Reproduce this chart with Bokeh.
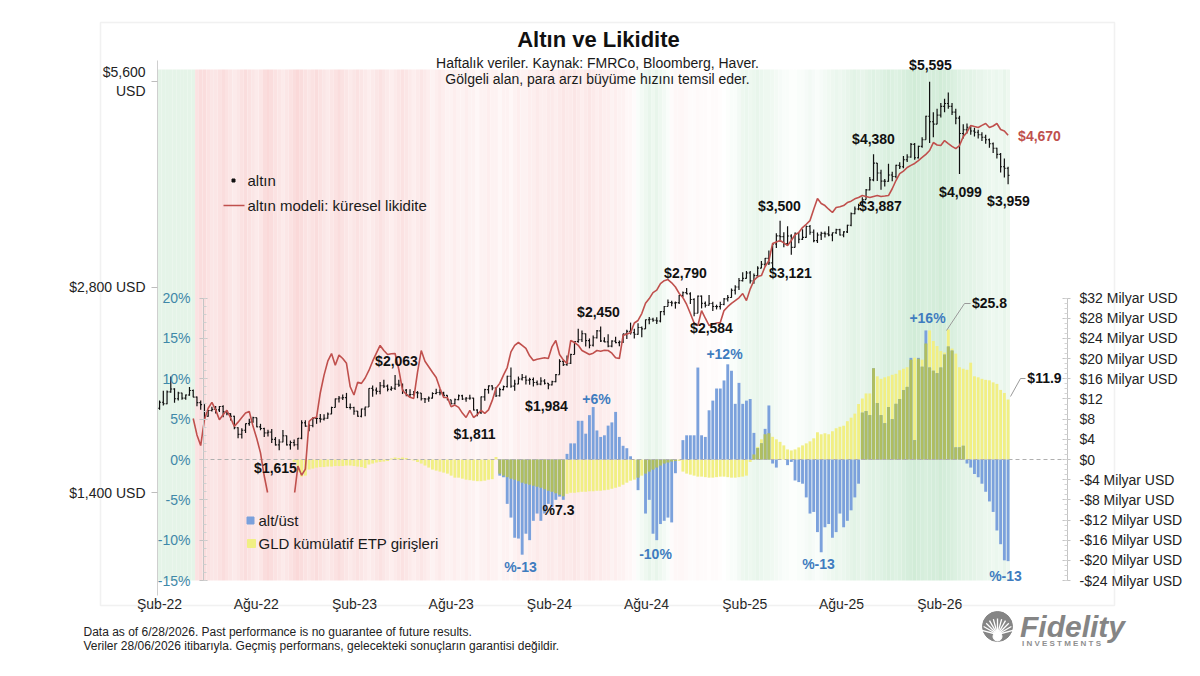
import math
import numpy as np
import pandas as pd
from bokeh.plotting import figure
from bokeh.models import (Range1d, LogScale, LogAxis, LinearAxis, FixedTicker,
                          Label, BoxAnnotation)
from bokeh.core.properties import value
from bokeh.embed import file_html
from bokeh.resources import INLINE

# ============================ DATA ============================
first_week = "2022-02-18"          # weekly (Friday) observations
n_weeks = 228
gold_open_first = 1860

gold_close = [
    1898, 1889, 1966, 1985, 1921, 1958, 1925, 1945, 1975, 1931,
    1896, 1883, 1811, 1846, 1853, 1850, 1871, 1840, 1827, 1811,
    1742, 1703, 1727, 1766, 1775, 1802, 1747, 1737, 1712, 1716,
    1675, 1644, 1660, 1695, 1644, 1657, 1645, 1681, 1771, 1751,
    1755, 1797, 1797, 1793, 1798, 1824, 1865, 1920, 1926, 1928,
    1865, 1865, 1842, 1811, 1855, 1868, 1989, 1978, 1969, 2007,
    2004, 1983, 1990, 2017, 2011, 1977, 1946, 1948, 1961, 1958,
    1921, 1919, 1925, 1955, 1962, 1959, 1943, 1914, 1889, 1915,
    1940, 1919, 1924, 1925, 1849, 1833, 1933, 1981, 2006, 1992,
    1940, 1981, 2001, 2072, 2004, 2019, 2053, 2063, 2045, 2049,
    2029, 2018, 2039, 2024, 2013, 2035, 2083, 2179, 2155, 2165,
    2230, 2330, 2344, 2392, 2337, 2301, 2360, 2415, 2334, 2327,
    2294, 2333, 2321, 2326, 2392, 2411, 2400, 2387, 2443, 2431,
    2507, 2512, 2503, 2497, 2577, 2622, 2658, 2653, 2656, 2721,
    2747, 2736, 2685, 2563, 2715, 2650, 2633, 2648, 2622, 2621,
    2640, 2690, 2703, 2770, 2800, 2861, 2883, 2936, 2858, 2910,
    2984, 3023, 3084, 3037, 3237, 3327, 3319, 3241, 3325, 3200,
    3357, 3289, 3310, 3433, 3368, 3274, 3337, 3355, 3350, 3337,
    3363, 3398, 3336, 3372, 3448, 3586, 3643, 3685, 3760, 3886,
    4018, 4252, 4112, 4002, 4000, 4085, 4065, 4220, 4200, 4300,
    4340, 4530, 4330, 4500, 4600, 4980, 4890, 4850, 5000, 5150,
    5200, 5150, 5050, 4950, 4700, 4760, 4800, 4740, 4720, 4680,
    4640, 4600, 4540, 4470, 4380, 4200, 4180, 4080]

gold_high = [
    1910, 1974, 1975, 2070, 1990, 1966, 1960, 1948, 1998, 1982,
    1935, 1909, 1885, 1849, 1870, 1874, 1875, 1879, 1847, 1829,
    1813, 1745, 1739, 1767, 1795, 1808, 1802, 1765, 1741, 1730,
    1735, 1688, 1675, 1729, 1697, 1668, 1674, 1682, 1787, 1787,
    1766, 1804, 1810, 1825, 1823, 1833, 1870, 1922, 1938, 1949,
    1959, 1890, 1869, 1843, 1858, 1870, 1990, 2009, 1995, 2032,
    2048, 2015, 2004, 2081, 2048, 2022, 1985, 1983, 1972, 1971,
    1959, 1926, 1935, 1963, 1987, 1983, 1967, 1938, 1915, 1923,
    1949, 1946, 1932, 1947, 1927, 1854, 1935, 1987, 2009, 2010,
    1993, 1993, 2008, 2075, 2135, 2047, 2070, 2088, 2078, 2062,
    2063, 2042, 2065, 2052, 2025, 2041, 2088, 2195, 2185, 2223,
    2236, 2330, 2432, 2418, 2393, 2354, 2378, 2422, 2450, 2364,
    2387, 2339, 2368, 2338, 2392, 2424, 2483, 2432, 2477, 2450,
    2509, 2531, 2525, 2529, 2581, 2626, 2685, 2672, 2666, 2725,
    2758, 2790, 2750, 2695, 2721, 2721, 2666, 2726, 2664, 2638,
    2665, 2697, 2725, 2786, 2817, 2886, 2942, 2955, 2956, 2930,
    3004, 3057, 3087, 3167, 3245, 3357, 3500, 3368, 3438, 3345,
    3366, 3365, 3403, 3446, 3452, 3398, 3366, 3375, 3377, 3438,
    3364, 3409, 3407, 3378, 3453, 3600, 3674, 3707, 3791, 3897,
    4059, 4380, 4255, 4160, 4030, 4245, 4132, 4230, 4265, 4354,
    4380, 4550, 4550, 4510, 4640, 4990, 5595, 5050, 5110, 5210,
    5285, 5396, 5210, 5110, 4990, 4850, 4860, 4830, 4790, 4760,
    4720, 4680, 4620, 4560, 4480, 4400, 4320, 4200]

gold_low = [
    1850, 1878, 1885, 1960, 1895, 1910, 1915, 1915, 1940, 1930,
    1872, 1850, 1797, 1807, 1840, 1828, 1836, 1805, 1816, 1785,
    1733, 1681, 1680, 1711, 1754, 1771, 1745, 1727, 1688, 1691,
    1654, 1640, 1615, 1659, 1640, 1618, 1637, 1617, 1675, 1747,
    1721, 1745, 1765, 1773, 1785, 1795, 1823, 1867, 1896, 1912,
    1861, 1853, 1820, 1808, 1804, 1810, 1880, 1934, 1949, 1950,
    1992, 1969, 1974, 1979, 2000, 1952, 1937, 1932, 1940, 1924,
    1910, 1893, 1902, 1922, 1950, 1943, 1928, 1911, 1885, 1884,
    1911, 1912, 1901, 1914, 1846, 1810, 1825, 1908, 1954, 1976,
    1932, 1935, 1976, 1995, 1994, 1973, 2017, 2042, 2016, 2013,
    2002, 2010, 2010, 2015, 1984, 2009, 2031, 2083, 2145, 2146,
    2160, 2230, 2320, 2325, 2291, 2277, 2291, 2353, 2326, 2324,
    2286, 2286, 2316, 2293, 2319, 2350, 2385, 2353, 2383, 2364,
    2433, 2470, 2490, 2471, 2485, 2546, 2621, 2624, 2603, 2643,
    2708, 2732, 2643, 2536, 2564, 2605, 2613, 2630, 2583, 2596,
    2596, 2633, 2667, 2700, 2730, 2772, 2852, 2880, 2833, 2832,
    2892, 2982, 3000, 3015, 2957, 3194, 3260, 3202, 3221, 3121,
    3205, 3245, 3280, 3306, 3340, 3255, 3248, 3282, 3310, 3324,
    3268, 3347, 3330, 3312, 3360, 3436, 3578, 3627, 3720, 3760,
    3880, 4000, 4004, 3886, 3930, 3995, 4000, 4040, 4170, 4180,
    4270, 4330, 4300, 4320, 4480, 4600, 4550, 4640, 4860, 4960,
    5050, 5110, 5000, 4850, 4099, 4620, 4700, 4680, 4650, 4620,
    4580, 4540, 4480, 4400, 4320, 4120, 4050, 3959]

model_first_week = 9
model_liquidity = [
    1797, 1700, 1640, 1790, 1860, 1897, 1850, 1790, 1820, 1847, 1800,
    1750, 1775, 1803, 1830, 1840, 1750, 1680, 1600, 1480, 1390,
    1340, 1300, 1280, 1290, 1310, 1340, 1380, 1530, 1484, 1515,
    1780, 1800, 1805, 1960, 2080, 2180, 2237, 2150, 2225, 2200,
    2165, 2000, 1945, 2030, 2023, 2060, 2113, 2180, 2240, 2299,
    2260, 2230, 2235, 2237, 2120, 1975, 1950, 1930, 1923, 2100,
    2260, 2180, 2140, 2100, 2064, 1990, 1929, 1929, 1870, 1880,
    1866, 1830, 1803, 1847, 1803, 1820, 1847, 1828, 1850, 1910,
    1990, 2023, 2080, 2134, 2250, 2300, 2322, 2300, 2276, 2220,
    2185, 2195, 2200, 2205, 2200, 2290, 2338, 2230, 2190, 2163,
    2338, 2322, 2300, 2260, 2245, 2230, 2240, 2260, 2255, 2262,
    2260, 2240, 2205, 2200, 2377, 2390, 2400, 2480, 2501, 2560,
    2650, 2693, 2748, 2770, 2833, 2860, 2871, 2840, 2800, 2740,
    2702, 2640, 2560, 2480, 2459, 2586, 2520, 2459, 2470, 2480,
    2484, 2586, 2620, 2650, 2675, 2700, 2739, 2675, 2780, 2862,
    2900, 2910, 3000, 3060, 3242, 3260, 3275, 3250, 3220, 3275,
    3340, 3364, 3422, 3460, 3503, 3640, 3773, 3710, 3685, 3640,
    3600, 3660, 3670, 3685, 3723, 3740, 3770, 3786, 3812, 3800,
    3786, 3800, 3812, 3799, 3805, 3812, 3900, 4010, 4105, 4140,
    4190, 4220, 4247, 4290, 4334, 4380, 4437, 4558, 4520, 4512,
    4589, 4543, 4500, 4466, 4512, 4650, 4720, 4827, 4810, 4795,
    4830, 4860, 4795, 4820, 4860, 4763, 4740, 4670]
model_floor = 1400     # the original's price axis stops here, the model line is cut

over_under_pct = [0.0] * 91 + [
    -2.0, -2.2, -5.5, -7.2, -9.7, -9.8, -11.8, -9.2, -10.0,
    -7.6, -6.7, -7.6, -6.7, -5.5, -5.9, -5.0, -4.6, -5.0, 0.7,
    2.0, 2.0, 4.8, 4.8, 3.2, 5.5, 6.5, 3.6, 2.8, 3.0,
    4.2, 4.6, 5.9, 2.8, 1.7, 1.4, 0.4, 0.0, -3.8, 0.0,
    -6.7, -5.0, -9.2, -10.0, -8.0, -7.6, -7.2, -7.8, -1.7, 0.0,
    2.4, 3.0, 3.0, 3.0, 11.4, 3.0, 2.8, 6.1, 7.3, 8.8,
    8.8, 9.8, 11.8, 11.0, 6.9, 9.5, 6.9, 7.3, 7.5, 3.3,
    1.4, 2.0, 3.8, 6.7, -0.5, -1.0, 0.0, 0.0, -0.7, -0.3,
    -2.6, -2.8, -3.0, -4.7, -6.7, -6.5, -9.0, -11.5, -8.4, -8.0,
    -9.7, -9.0, -6.7, -8.4, -7.6, -6.3, -4.7, -3.0, 5.8, 6.0,
    5.5, 11.3, 7.0, 5.5, 4.5, 6.5, 5.0, 6.9, 7.5, 8.6,
    9.0, 12.6, 2.4, 12.6, 11.5, 16.0, 11.4, 11.0, 10.7, 11.4,
    13.0, 14.0, 13.5, 1.5, 1.5, 1.7, -0.5, -1.0, -1.8, -2.2,
    -3.0, -4.0, -5.2, -6.5, -8.8, -10.5, -12.5, -12.6]

gld_etp_flows = [0.0] * 36 + [
    -0.5, -2.5, -3.4, -3.2, -2.0, -1.8, -1.6, -1.5, -1.5, -1.4,
    -1.4, -1.3, -1.3, -1.3, -1.2, -1.2, -1.3, -1.4, -1.5, -1.7,
    -1.0, -0.8, -0.6, -0.5, -0.4, -0.3, 0.2, 0.4, 0.3, 0.4,
    0.3, 0.1, -0.2, -0.5, -0.8, -1.2, -1.6, -2.0, -2.2, -2.4,
    -2.6, -2.8, -3.2, -3.6, -3.6, -3.8, -4.0, -4.1, -4.2, -4.3,
    -4.3, -4.2, -4.0, -3.9, 0.5, -2.8, -3.2, -3.5, -3.8, -4.0,
    -4.3, -4.6, -4.8, -5.0, -5.2, -5.4, -5.6, -5.9, -6.2, -6.4,
    -6.7, -7.0, -7.3, -6.8, -6.6, -6.6, -6.5, -6.4, -6.4, -6.3,
    -6.3, -6.2, -6.2, -6.1, -6.0, -5.8, -5.6, -5.4, -5.0, -4.6,
    -4.2, -4.0, -3.6, -3.2, -2.8, -2.4, -2.0, -1.6, -1.2, -0.8,
    -0.6, -0.4, -0.3, -0.3, -2.4, -2.8, -3.0, -3.2, -3.4, -3.4,
    -3.5, -3.6, -3.6, -3.5, -3.4, -3.4, -3.5, -3.6, -3.6, -3.5,
    -3.4, -3.2, -0.5, 1.0, 2.5, 4.0, 5.0, 5.2, 4.5, 4.0,
    3.5, 2.8, 2.0, 1.8, 2.0, 2.4, 2.8, 3.2, 3.6, 4.2,
    5.4, 5.0, 5.2, 5.0, 5.6, 6.2, 6.5, 6.7, 7.6, 8.3,
    9.1, 11.0, 12.1, 13.1, 13.1, 18.1, 16.5, 16.0, 16.3, 16.5,
    16.8, 17.0, 17.7, 18.0, 18.3, 19.8, 20.2, 20.0, 19.8, 23.0,
    25.6, 23.5, 22.5, 21.5, 21.2, 25.8, 22.0, 21.0, 18.3, 18.0,
    17.8, 19.2, 16.5, 16.3, 16.0, 15.8, 15.7, 15.3, 15.0, 13.8,
    13.2, 11.9]

# money-supply growth speed shown as background shading (-1 slow/red .. +1 fast/green)
money_growth = (
    [0.45] * 10 +
    [-0.7, -0.8, -0.8, -0.7, -0.6, -0.6, -0.7, -0.8, -0.7, -0.6,
     -0.5, -0.6, -0.7, -0.8, -0.7, -0.6, -0.5, -0.6, -0.8, -0.9,
     -0.8, -0.7, -0.6, -0.5, -0.6, -0.7, -0.8, -0.9, -0.8, -0.7,
     -0.6, -0.7, -0.8, -0.7, -0.6, -0.5, -0.6, -0.7, -0.8, -0.7,
     -0.6, -0.5, -0.6, -0.7, -0.6, -0.5, -0.4, -0.5, -0.6, -0.7,
     -0.6, -0.5, -0.4, -0.5, -0.6, -0.7, -0.6, -0.5, -0.4, -0.5,
     -0.6, -0.5, -0.4, -0.3, -0.4, -0.5, -0.4, -0.3, -0.3, -0.4,
     -0.3, -0.3, -0.4, -0.3, -0.3, -0.2, -0.3, -0.3, -0.4, -0.3,
     -0.3, -0.2, -0.3, -0.3, -0.2, -0.3, -0.4, -0.3, -0.3, -0.4,
     -0.4, -0.5, -0.4, -0.4, -0.5, -0.5, -0.4, -0.5, -0.6, -0.5,
     -0.5, -0.6, -0.5, -0.4, -0.5, -0.6, -0.5, -0.4, -0.5, -0.4,
     -0.4, -0.3, -0.4, -0.3, -0.3, -0.2, -0.2, -0.1, 0.1, 0.2,
     0.3, 0.4, 0.3, 0.4, 0.3, 0.2, 0.1, -0.1, -0.2, -0.2,
     -0.2, -0.15, -0.1, -0.1, -0.15, -0.1, -0.1, -0.05, -0.1, -0.1,
     -0.05, 0.0, 0.05, 0.1, 0.1, 0.2, 0.3, 0.35, 0.3, 0.35,
     0.4, 0.35, 0.3, 0.3, 0.25, 0.2, 0.15, 0.1, 0.1, 0.05,
     0.05, 0.1, 0.1, 0.15, 0.2, 0.15, 0.1, 0.15, 0.2, 0.25,
     0.3, 0.35, 0.3, 0.35, 0.4, 0.45, 0.5, 0.45, 0.4, 0.45,
     0.5, 0.55, 0.5, 0.55, 0.6, 0.65, 0.6, 0.55, 0.6, 0.65,
     0.7, 0.75, 0.8, 0.75, 0.7, 0.65, 0.7, 0.75, 0.7, 0.8,
     0.75, 0.7, 0.65, 0.6, 0.55, 0.5, 0.45, 0.5, 0.45, 0.4,
     0.4, 0.35, 0.35, 0.3, 0.35, 0.3, 0.4, 0.3])

x_tick_dates = ["2022-02-18", "2022-08-18", "2023-02-18", "2023-08-18", "2024-02-18",
                "2024-08-18", "2025-02-18", "2025-08-18", "2026-02-18"]
x_tick_labels = ["Şub-22", "Ağu-22", "Şub-23", "Ağu-23", "Şub-24",
                 "Ağu-24", "Şub-25", "Ağu-25", "Şub-26"]
price_ticks = [1400, 2800, 5600]
price_tick_labels = ["$1,400 USD", "$2,800 USD", "$5,600\nUSD"]
pct_ticks = [-15, -10, -5, 0, 5, 10, 15, 20]
pct_tick_labels = ["-15%", "-10%", "-5%", "0%", "5%", "10%", "15%", "20%"]
flow_ticks = [-24, -20, -16, -12, -8, -4, 0, 4, 8, 12, 16, 20, 24, 28, 32]
flow_tick_labels = ["-$24 Milyar USD", "-$20 Milyar USD", "-$16 Milyar USD", "-$12 Milyar USD",
                    "-$8 Milyar USD", "-$4 Milyar USD", "$0", "$4", "$8", "$12",
                    "$16 Milyar USD", "$20 Milyar USD", "$24 Milyar USD", "$28 Milyar USD",
                    "$32 Milyar USD"]

title_text = "Altın ve Likidite"
subtitle_lines = ["Haftalık veriler. Kaynak: FMRCo, Bloomberg, Haver.",
                  "Gölgeli alan, para arzı büyüme hızını temsil eder."]
footer_lines = ["Data as of 6/28/2026. Past performance is no guarantee of future results.",
                "Veriler 28/06/2026 itibarıyla. Geçmiş performans, gelecekteki sonuçların garantisi değildir."]
legend_gold = "altın"
legend_model = "altın modeli: küresel likidite"
legend_gap = "alt/üst"
legend_flows = "GLD kümülatif ETP girişleri"

assert len(gold_close) == n_weeks and len(gold_high) == n_weeks and len(gold_low) == n_weeks
assert len(model_liquidity) == n_weeks - model_first_week
assert len(over_under_pct) == n_weeks and len(gld_etp_flows) == n_weeks and len(money_growth) == n_weeks

# ============================ LAYOUT ============================
W, H = 1200, 676
ORIGIN = pd.Timestamp("2022-02-01")
X0_PX, PX_PER_DAY = 150.0, 0.534
ZERO_PY, PX_PER_PCT = 459.0, 8.067
PRICE_REF, PRICE_REF_PY, PX_PER_OCTAVE = 5600.0, 81.0, 205.5
PX_PER_BN = 5.042

def X(px):   # canvas px -> x data (days since ORIGIN)
    return (px - X0_PX) / PX_PER_DAY

def Y(py):   # canvas px -> percent axis value
    return (ZERO_PY - py) / PX_PER_PCT

def P(py):   # canvas px -> price
    return PRICE_REF * 2 ** ((PRICE_REF_PY - py) / PX_PER_OCTAVE)

def F(py):   # canvas px -> billions USD
    return (ZERO_PY - py) / PX_PER_BN

FONT = "Liberation Sans"

weeks = pd.date_range(first_week, periods=n_weeks, freq="7D")
xd = (weeks - ORIGIN).days.to_numpy(dtype=float)

# the frame covers the whole canvas; every axis is pinned with fixed_location
p = figure(width=W, height=H, output_backend="svg", toolbar_location=None,
           x_range=Range1d(X(0), X(W)), y_range=Range1d(Y(H), Y(0)),
           y_axis_location=None, x_axis_location=None,
           min_border_left=0, min_border_right=0, min_border_top=0, min_border_bottom=0)
p.title.visible = False
p.extra_y_ranges = {"price": Range1d(P(H), P(0)), "flows": Range1d(F(H), F(0))}
p.extra_y_scales = {"price": LogScale()}
p.xgrid.visible = False
p.ygrid.visible = False
p.outline_line_color = None
p.background_fill_color = "white"
p.border_fill_color = "white"

# --- background shading (money supply growth) ---
def shade(v):
    a = min(abs(v), 1.0)
    base = (197, 231, 205) if v >= 0 else (249, 213, 213)
    return "#%02x%02x%02x" % tuple(int(round(255 + (b - 255) * a)) for b in base)

p.quad(left=xd - 3.5, right=xd + 3.5, bottom=Y(580), top=Y(69),
       fill_color=[shade(v) for v in money_growth], line_color=None)

# --- bars: over/under (percent axis) and GLD flows (right axis) ---
gap = np.array(over_under_pct, dtype=float)
flows = np.array(gld_etp_flows, dtype=float)
ratio = (F(0) - F(H)) / (Y(0) - Y(H))          # billions per percent on screen
flows_pct = flows / ratio
same = np.sign(gap) == np.sign(flows_pct)
overlap = np.where(same, np.sign(gap) * np.minimum(np.abs(gap), np.abs(flows_pct)), 0.0)

BAR_W = 5.4
YELLOW, BLUE, OLIVE = "#f1ef84", "#7ba1dc", "#afbe60"
p.vbar(x=xd, top=flows, bottom=0, width=BAR_W, y_range_name="flows",
       fill_color=YELLOW, line_color=None)
p.vbar(x=xd, top=gap, bottom=0, width=BAR_W, fill_color=BLUE, line_color=None)
p.vbar(x=xd, top=overlap, bottom=0, width=BAR_W, fill_color=OLIVE, line_color=None)

# --- zero line ---
p.segment(x0=[X(203)], y0=[0], x1=[X(1067)], y1=[0], line_color="#b0b0b0",
          line_dash="4 3", line_width=1)

# --- gold weekly bars ---
close = np.array(gold_close, dtype=float)
opens = np.concatenate([[gold_open_first], close[:-1]])
high = np.maximum.reduce([np.array(gold_high, float), opens, close])
low = np.minimum.reduce([np.array(gold_low, float), opens, close])
TICK = 2.6
INK = "#111111"
p.segment(x0=xd, y0=low, x1=xd, y1=high, y_range_name="price", line_color=INK, line_width=1.2)
p.segment(x0=xd - TICK, y0=opens, x1=xd, y1=opens, y_range_name="price", line_color=INK, line_width=1.1)
p.segment(x0=xd, y0=close, x1=xd + TICK, y1=close, y_range_name="price", line_color=INK, line_width=1.1)

# --- model line, cut at the price-axis floor ---
mx_src = xd[model_first_week:]
mv_src = list(model_liquidity)
mx, my = [], []
lf = math.log(model_floor)
for i, (x, v) in enumerate(zip(mx_src, mv_src)):
    if i > 0:
        x_prev, v_prev = mx_src[i - 1], mv_src[i - 1]
        if (v_prev >= model_floor) != (v >= model_floor):
            t = (lf - math.log(v_prev)) / (math.log(v) - math.log(v_prev))
            mx.append(x_prev + t * (x - x_prev)); my.append(model_floor)
            if v < model_floor:
                mx.append(float("nan")); my.append(float("nan"))
    if v >= model_floor:
        mx.append(x); my.append(v)
RED = "#c0504d"
p.line(x=mx, y=my, y_range_name="price", line_color=RED, line_width=1.6)

# --- axes (pinned) ---
def style_axis(ax, color="#222222"):
    ax.major_label_text_font = FONT
    ax.major_label_text_font_size = "14px"
    ax.major_label_text_color = color

price_axis = LogAxis(y_range_name="price", fixed_location=X(157),
                     ticker=FixedTicker(ticks=price_ticks, minor_ticks=[]))
price_axis.major_label_overrides = dict(zip(price_ticks, price_tick_labels))
price_axis.bounds = (P(595), P(60))
price_axis.axis_line_color = "#cfcfcf"
price_axis.major_tick_line_color = "#bdbdbd"
price_axis.major_tick_out = 6
price_axis.major_tick_in = 0
price_axis.major_label_standoff = 6
style_axis(price_axis)
p.add_layout(price_axis, "left")

pct_axis = LinearAxis(fixed_location=X(203),
                      ticker=FixedTicker(ticks=pct_ticks,
                                         minor_ticks=list(range(pct_ticks[0], pct_ticks[-1] + 1))))
pct_axis.major_label_overrides = dict(zip(pct_ticks, pct_tick_labels))
pct_axis.bounds = (pct_ticks[0], pct_ticks[-1])
pct_axis.axis_line_color = "#c4c4c4"
pct_axis.major_tick_line_color = "#c4c4c4"
pct_axis.minor_tick_line_color = "#d0d0d0"
pct_axis.major_tick_out = 4
pct_axis.major_tick_in = 4
pct_axis.minor_tick_out = 0
pct_axis.minor_tick_in = 3
pct_axis.major_label_standoff = 9
style_axis(pct_axis, "#3f88a8")
p.add_layout(pct_axis, "left")

flow_axis = LinearAxis(y_range_name="flows", fixed_location=X(1067),
                       ticker=FixedTicker(ticks=flow_ticks, minor_ticks=list(range(-24, 33))))
flow_axis.major_label_overrides = dict(zip(flow_ticks, flow_tick_labels))
flow_axis.bounds = (flow_ticks[0], flow_ticks[-1])
flow_axis.axis_line_color = "#c4c4c4"
flow_axis.major_tick_line_color = "#c4c4c4"
flow_axis.minor_tick_line_color = "#d4d4d4"
flow_axis.major_tick_in = 5
flow_axis.major_tick_out = 3
flow_axis.minor_tick_in = 3
flow_axis.minor_tick_out = 0
flow_axis.major_label_standoff = 9
style_axis(flow_axis)
p.add_layout(flow_axis, "right")

x_tick_days = [int(d) for d in (pd.to_datetime(x_tick_dates) - ORIGIN).days]
x_axis = LinearAxis(fixed_location=Y(580), ticker=FixedTicker(ticks=x_tick_days, minor_ticks=[]))
x_axis.major_label_overrides = dict(zip(x_tick_days, x_tick_labels))
x_axis.axis_line_color = None
x_axis.major_tick_line_color = None
x_axis.minor_tick_line_color = None
x_axis.major_label_standoff = 9
style_axis(x_axis)
p.add_layout(x_axis, "below")

# --- text helpers ---
def label(px, py, text, size=14, color="#111111", style="normal", align="center",
          baseline="middle", font=FONT):
    p.add_layout(Label(x=X(px), y=Y(py), text=text, text_font=font, text_font_size=f"{size}px",
                       text_color=color, text_font_style=style, text_align=align,
                       text_baseline=baseline))

# frame around the whole graphic
p.add_layout(BoxAnnotation(left=X(100), right=X(1114), top=Y(22), bottom=Y(605),
                           fill_alpha=0, line_color="#d2d2d2", line_width=1.5))

label(598, 39, title_text, size=22, style="bold")
label(597, 62, subtitle_lines[0], size=14, color="#1a1a1a")
label(597, 78, subtitle_lines[1], size=14, color="#1a1a1a")

label(83, 631, footer_lines[0], size=12, color="#222222", align="left")
label(83, 645, footer_lines[1], size=12, color="#222222", align="left")

# Fidelity mark
LOGO = "#858585"
p.scatter(x=[X(997)], y=[Y(626)], marker="circle", size=30, color=LOGO)
for ang in range(15, 170, 15):
    a = math.radians(ang)
    p.segment(x0=[X(997)], y0=[Y(634)], x1=[X(997 + 16 * math.cos(a))], y1=[Y(634 - 16 * math.sin(a))],
              line_color="white", line_width=1.3)
p.scatter(x=[X(997)], y=[Y(636)], marker="circle", size=9, color="white")
label(1072, 626, "Fidelity", size=30, color=LOGO, style="bold italic")
label(1061, 643, "I N V E S T M E N T S", size=8, color="#8f8f8f", style="bold")

# legends
p.scatter(x=[X(233)], y=[Y(180)], marker="square", size=3, color=INK)
p.segment(x0=[X(223)], y0=[Y(205)], x1=[X(244)], y1=[Y(205)], line_color=RED, line_width=1.6)
label(247, 180, legend_gold, size=15, align="left", color="#1a1a1a")
label(247, 205, legend_model, size=15, align="left", color="#1a1a1a")
p.scatter(x=[X(250)], y=[Y(520)], marker="square", size=7, color=BLUE)
p.scatter(x=[X(251)], y=[Y(543)], marker="square", size=8, color=YELLOW)
label(258, 520, legend_gap, size=15, align="left", color="#1a1a1a")
label(258, 543, legend_flows, size=15, align="left", color="#1a1a1a")

# price call-outs
price_notes = [("$1,615", 275, 467), ("$2,063", 396, 360), ("$1,811", 474, 433),
               ("$1,984", 546, 405), ("$2,450", 598, 311), ("$2,790", 685, 272),
               ("$2,584", 711, 327), ("$3,500", 779, 205), ("$3,121", 790, 272),
               ("$3,887", 880, 205), ("$4,380", 873, 138), ("$5,595", 930, 64),
               ("$4,099", 960, 191), ("$3,959", 1008, 200)]
for t, px, py in price_notes:
    label(px, py, t, size=14, style="bold", color="#111111")
label(1039, 135, "$4,670", size=14, style="bold", color=RED)

BLUE_TXT = "#3f7cbf"
pct_notes = [("+6%", 596, 398), ("%-13", 520, 566), ("-10%", 655, 553), ("+12%", 724, 353),
             ("%-13", 818, 563), ("+16%", 927, 317), ("%-13", 1005, 575)]
for t, px, py in pct_notes:
    label(px, py, t, size=14, style="bold", color=BLUE_TXT)
label(558, 509, "%7.3", size=14, style="bold", color="#111111")
label(989, 302, "$25.8", size=14, style="bold", color="#111111")
label(1044, 377, "$11.9", size=14, style="bold", color="#111111")
p.line(x=[X(946), X(964), X(970)], y=[Y(330), Y(303), Y(303)], line_color="#9a9a9a", line_width=1)
p.line(x=[X(1010), X(1020), X(1025)], y=[Y(396), Y(378), Y(378)], line_color="#9a9a9a", line_width=1)

open("out.html", "w").write(file_html(p, INLINE))
